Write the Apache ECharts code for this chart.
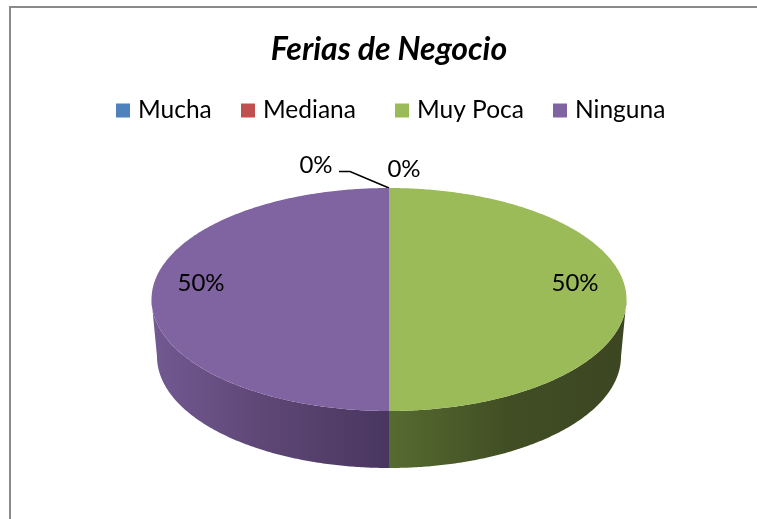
<!DOCTYPE html>
<html>
<head>
<meta charset="utf-8">
<script src="https://cdn.jsdelivr.net/npm/echarts@6/dist/echarts.min.js"></script>
<style>
  html, body { margin: 0; padding: 0; background: #fff; }
  #chart { width: 757px; height: 519px; }
</style>
</head>
<body>
<div id="chart"></div>
<script>
// datos de la tabla
const categories = ["Mucha", "Mediana", "Muy Poca", "Ninguna"];
const values = [0, 0, 50, 50];
const colors = ["#4f81bd", "#c0504d", "#9bbb59", "#8064a2"];

const titleText = "Ferias de Negocio";
const fontName = "Lato";

// colores de la pared lateral (izquierda a derecha), solo para las porciones visibles
const sideStops = {
    "Muy Poca": ["#566b30", "#414e24", "#3c4622"],
    "Ninguna": ["#725a92", "#5d4674", "#49365f"],
};
const legendLeft = [116, 241, 395, 553];

// geometria del pastel "3D"
const pie = { cx: 389, cy: 299.5, rx: 237.5, ry: 111.5, depth: 57, bottomRx: 232 };
const total = values.reduce((a, b) => a + b, 0);

function pointAt(t, rx, cy) {
    // t en radianes, desde arriba y en sentido horario
    return [pie.cx + rx * Math.sin(t), cy - pie.ry * Math.cos(t)];
}

function arcPoints(a0, a1, rx, cy) {
    const pts = [];
    const n = Math.max(2, Math.ceil(Math.abs(a1 - a0) / 0.01));
    for (let i = 0; i <= n; i++) {
        pts.push(pointAt(a0 + (a1 - a0) * i / n, rx, cy));
    }
    return pts;
}

function labelFor(index, pct, mid) {
    // las porciones en cero van arriba, una de ellas con linea guia
    if (values[index] === 0) {
        return index === 0
            ? { x: pie.cx - 73, y: pie.cy - 134, leader: true }
            : { x: pie.cx + 15, y: pie.cy - 130 };
    }
    return { x: pie.cx - 1 + 187 * Math.sin(mid), y: pie.cy - 16 };
}

function renderSlice(index) {
    const before = values.slice(0, index).reduce((a, b) => a + b, 0);
    const a0 = before / total * Math.PI * 2;
    const a1 = (before + values[index]) / total * Math.PI * 2;
    const mid = (a0 + a1) / 2;
    const pct = Math.round(values[index] / total * 100) + "%";
    const children = [];

    if (values[index] > 0) {
        // pared lateral, solo la mitad de adelante
        const s0 = Math.max(a0, Math.PI / 2);
        const s1 = Math.min(a1, Math.PI * 3 / 2);
        if (s1 > s0) {
            const stops = sideStops[categories[index]];
            children.push({
                type: "polygon",
                shape: {
                    points: arcPoints(s0, s1, pie.rx, pie.cy)
                        .concat(arcPoints(s1, s0, pie.bottomRx, pie.cy + pie.depth)),
                },
                style: {
                    fill: new echarts.graphic.LinearGradient(0, 0, 1, 0, [
                        { offset: 0, color: stops[0] },
                        { offset: 0.5, color: stops[1] },
                        { offset: 1, color: stops[2] },
                    ]),
                },
            });
        }
        // cara superior
        children.push({
            type: "polygon",
            shape: { points: [[pie.cx, pie.cy]].concat(arcPoints(a0, a1, pie.rx, pie.cy)) },
            style: { fill: colors[index] },
        });
    }

    const lab = labelFor(index, pct, mid);
    if (lab.leader) {
        children.push({
            type: "polyline",
            shape: { points: [[lab.x + 23, lab.y + 6], [lab.x + 34, lab.y + 6], [pie.cx, pie.cy - pie.ry]] },
            style: { stroke: "#000", lineWidth: 1.6, fill: null },
        });
    }
    children.push({
        type: "text",
        style: {
            text: pct, x: lab.x, y: lab.y, fill: "#000",
            font: "24px " + fontName, align: "center", verticalAlign: "middle",
        },
    });
    return { type: "group", children: children };
}

const chart = echarts.init(document.getElementById("chart"), null, { renderer: "canvas" });

chart.setOption({
    animation: false,
    backgroundColor: "#fff",
    title: {
        text: titleText,
        left: 384,
        textAlign: "center",
        top: 29,
        textStyle: { fontFamily: fontName, fontSize: 32, fontWeight: "bold", fontStyle: "italic", color: "#000" },
    },
    // una leyenda por categoria para respetar el espaciado original
    legend: categories.map((name, i) => ({
        data: [name],
        left: legendLeft[i],
        top: 98,
        padding: 0,
        icon: "rect",
        itemWidth: 14,
        itemHeight: 14,
        itemGap: 0,
        selectedMode: false,
        textStyle: { fontFamily: fontName, fontSize: 24.5, color: "#000", padding: [0, 0, 0, 3] },
    })),
    graphic: [{
        type: "rect",
        shape: { x: 10, y: 7, width: 780, height: 540 },
        style: { fill: null, stroke: "#8a8a8a", lineWidth: 2 },
        silent: true,
        z: -1,
    }],
    series: categories.map((name, i) => ({
        type: "custom",
        name: name,
        coordinateSystem: "none",
        itemStyle: { color: colors[i] },
        data: [values[i]],
        renderItem: () => renderSlice(i),
    })),
});
</script>
</body>
</html>
